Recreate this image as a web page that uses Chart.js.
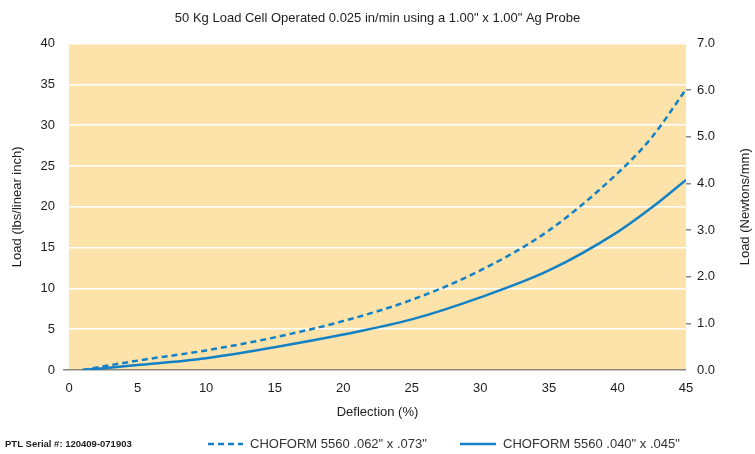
<!DOCTYPE html>
<html>
<head>
<meta charset="utf-8">
<script src="https://cdn.jsdelivr.net/npm/chart.js@4.4.0/dist/chart.umd.min.js"></script>
<style>
  html, body { margin: 0; padding: 0; background: #ffffff; }
  #wrap { width: 755px; height: 454px; }
</style>
</head>
<body>
<div id="wrap"><canvas id="loadChart" width="755" height="454"></canvas></div>
<script>
// Values
const deflection = [1, 5, 10, 15, 20, 25, 30, 35, 40, 42.5, 45];
const loadDashed = [0, 1.15, 2.4, 4.0, 6.0, 8.6, 12.2, 17.1, 24.1, 28.5, 34.4];
const loadSolid = [0, 0.6, 1.45, 2.8, 4.35, 6.2, 8.9, 12.2, 16.9, 19.9, 23.3];
const seriesNames = ['CHOFORM 5560 .062" x .073"', 'CHOFORM 5560 .040" x .045"'];
const xTicks = [0, 5, 10, 15, 20, 25, 30, 35, 40, 45];
const leftTicks = [0, 5, 10, 15, 20, 25, 30, 35, 40];
const rightTicks = [0, 1, 2, 3, 4, 5, 6, 7];

const lineColor = '#1381c6';
const textColor = '#1d1d1d';
const FONT = "'Liberation Sans', Arial, sans-serif";

function toPoints(xs, ys) {
    return xs.map(function(x, i) { return { x: x, y: ys[i] }; });
}

// plot area fill, right axis title, legend and serial text
const extras = {
    id: 'extras',
    beforeDraw: function(chart) {
        const a = chart.chartArea;
        const ctx = chart.ctx;
        ctx.save();
        ctx.fillStyle = '#fde3aa';
        ctx.fillRect(a.left, a.top, a.right - a.left, a.bottom - a.top);
        ctx.restore();
    },
    afterDraw: function(chart) {
        const ctx = chart.ctx;
        const a = chart.chartArea;
        ctx.save();
        ctx.fillStyle = textColor;
        // right axis title, reading bottom to top
        ctx.translate(745, (a.top + a.bottom) / 2);
        ctx.rotate(-Math.PI / 2);
        ctx.font = '13px ' + FONT;
        ctx.textAlign = 'center';
        ctx.textBaseline = 'middle';
        ctx.fillText('Load (Newtons/mm)', 0, 0);
        ctx.restore();

        ctx.save();
        const ly = 444;
        ctx.fillStyle = textColor;
        ctx.font = 'bold 9.5px ' + FONT;
        ctx.textBaseline = 'middle';
        ctx.fillText('PTL Serial #: 120409-071903', 5, ly);

        ctx.strokeStyle = lineColor;
        ctx.lineWidth = 2.5;
        ctx.setLineDash([6, 4]);
        ctx.beginPath();
        ctx.moveTo(208, ly);
        ctx.lineTo(243, ly);
        ctx.stroke();
        ctx.setLineDash([]);
        ctx.beginPath();
        ctx.moveTo(460, ly);
        ctx.lineTo(496, ly);
        ctx.stroke();

        ctx.fillStyle = '#333333';
        ctx.font = '13px ' + FONT;
        ctx.fillText(seriesNames[0], 250, ly);
        ctx.fillText(seriesNames[1], 503, ly);
        ctx.restore();
    }
};

document.addEventListener('DOMContentLoaded', function() {
    const ctx = document.getElementById('loadChart').getContext('2d');
    new Chart(ctx, {
        type: 'line',
        data: {
            datasets: [{
                label: seriesNames[0],
                data: toPoints(deflection, loadDashed),
                borderColor: lineColor,
                borderWidth: 2.5,
                borderDash: [6, 4],
                pointRadius: 0,
                fill: false,
                cubicInterpolationMode: 'monotone',
                yAxisID: 'y'
            }, {
                label: seriesNames[1],
                data: toPoints(deflection, loadSolid),
                borderColor: lineColor,
                borderWidth: 2.5,
                pointRadius: 0,
                fill: false,
                cubicInterpolationMode: 'monotone',
                yAxisID: 'y'
            }]
        },
        options: {
            responsive: false,
            animation: false,
            layout: { padding: { left: 0, right: 0, top: 0, bottom: 34 } },
            plugins: {
                legend: { display: false },
                tooltip: { enabled: false },
                title: {
                    display: true,
                    text: '50 Kg Load Cell Operated 0.025 in/min using a 1.00" x 1.00" Ag Probe',
                    color: textColor,
                    font: { family: FONT, size: 13, weight: 'normal' },
                    padding: { top: 11, bottom: 17 }
                }
            },
            scales: {
                x: {
                    type: 'linear',
                    min: 0,
                    max: 45,
                    afterBuildTicks: function(s) { s.ticks = xTicks.map(function(v) { return { value: v }; }); },
                    afterFit: function(s) { s.height = 50; },
                    grid: { display: false },
                    border: { display: false },
                    ticks: { color: textColor, font: { family: FONT, size: 13 }, padding: 3 },
                    title: {
                        display: true,
                        text: 'Deflection (%)',
                        color: textColor,
                        font: { family: FONT, size: 13 },
                        padding: { top: 0, bottom: 0 }
                    }
                },
                y: {
                    position: 'left',
                    min: 0,
                    max: 40,
                    afterBuildTicks: function(s) { s.ticks = leftTicks.map(function(v) { return { value: v }; }); },
                    afterFit: function(s) { s.width = 69; },
                    border: { display: false },
                    grid: {
                        color: function(c) { return c.tick && c.tick.value === 0 ? '#8a8780' : '#ffffff'; },
                        lineWidth: 1.5,
                        tickLength: 6,
                        tickColor: function(c) { return c.tick && c.tick.value === 0 ? '#8a8780' : 'rgba(0,0,0,0)'; }
                    },
                    ticks: { color: textColor, font: { family: FONT, size: 13 }, padding: 8 },
                    title: {
                        display: true,
                        text: 'Load (lbs/linear inch)',
                        color: textColor,
                        font: { family: FONT, size: 13 },
                        padding: { top: 10, bottom: 0 }
                    }
                },
                y1: {
                    position: 'right',
                    min: 0,
                    max: 7,
                    afterBuildTicks: function(s) { s.ticks = rightTicks.map(function(v) { return { value: v }; }); },
                    afterFit: function(s) { s.width = 69; },
                    border: { display: false },
                    grid: {
                        drawOnChartArea: false,
                        tickLength: 5,
                        lineWidth: 1.5,
                        tickColor: function(c) {
                            const v = c.tick ? c.tick.value : 0;
                            return (v === 0 || v === 7) ? 'rgba(0,0,0,0)' : '#8a8780';
                        }
                    },
                    ticks: {
                        color: textColor,
                        font: { family: FONT, size: 13 },
                        padding: 6,
                        callback: function(v) { return Number(v).toFixed(1); }
                    }
                }
            }
        },
        plugins: [extras]
    });
});
</script>
</body>
</html>
